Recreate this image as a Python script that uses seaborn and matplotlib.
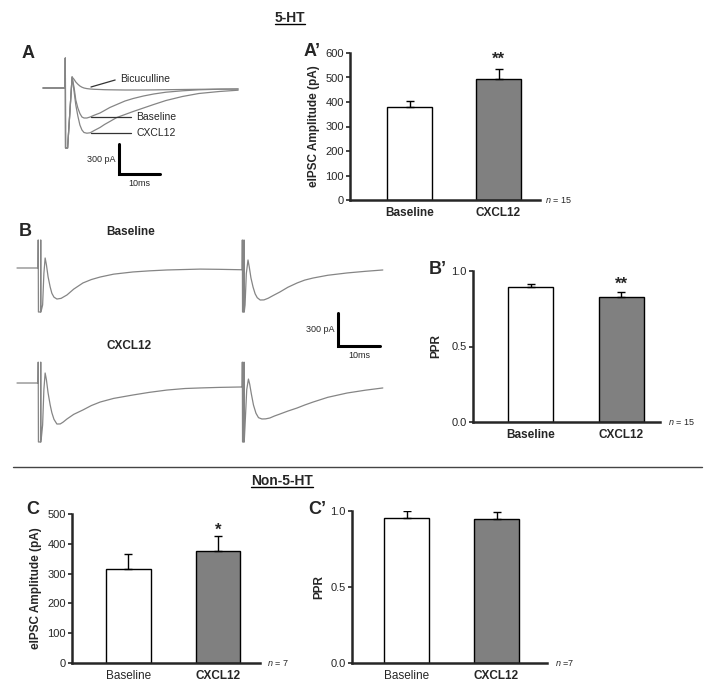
import matplotlib
matplotlib.use('Agg')
import matplotlib.pyplot as plt
from matplotlib.lines import Line2D
import seaborn as sns

# ---------------- values ----------------
conditions = ['Baseline', 'CXCL12']

# A' 5-HT eIPSC amplitude (pA): mean, SEM
amp_5ht = [378, 494]
amp_5ht_sem = [28, 40]
# B' 5-HT paired-pulse ratio
ppr_5ht = [0.895, 0.83]
ppr_5ht_sem = [0.022, 0.028]
# C non-5-HT eIPSC amplitude (pA)
amp_non = [316, 376]
amp_non_sem = [49, 49]
# C' non-5-HT paired-pulse ratio
ppr_non = [0.956, 0.947]
ppr_non_sem = [0.042, 0.045]

# A: example traces (ms, pA), stimulus artefact then response
trace_a_t = [0, 5.4, 5.45, 5.5, 6.0, 7.1, 7.6, 8.0, 8.5, 9.0, 9.5, 10.0, 10.7, 11.5, 12.5,
             13.9, 15.0, 16.3, 18.0, 20.0, 22.0, 24.5, 27.0, 30.0, 34.0, 38.0, 43.0, 47.6]
trace_a_bic = [0, 0, 300, -600, -600, 110, 85, 60, 38, 20, 8, 0, -6, -10, -13,
               -15, -17, -18, -19, -20, -20, -20, -19, -17, -15, -13, -11, -10]
trace_a_base = [0, 0, 300, -600, -600, 110, 0, -120, -200, -255, -290, -300, -300, -290, -272,
                -250, -225, -195, -165, -130, -105, -80, -60, -42, -28, -18, -12, -10]
trace_a_cxcl = [0, 0, 300, -600, -600, 110, -40, -170, -280, -370, -420, -445, -452, -448, -425,
                -395, -365, -335, -295, -265, -235, -200, -165, -125, -85, -55, -35, -22]

# B: paired-pulse traces (ms, pA)
trace_b_base_t = [0, 5.0, 5.05, 5.1, 5.6, 5.65, 5.7, 6.1, 6.4, 6.7, 7.0, 7.4, 7.9, 8.3, 8.8,
                  9.5, 10.5, 11.9, 13.5, 15.7, 17.7, 19.8, 23.0, 27.6, 31.5, 35.7, 43.6, 48.0,
                  53.6, 53.65, 53.7, 54.0, 54.05, 54.1, 54.3, 54.6, 55.0, 55.3, 55.7, 56.2,
                  56.7, 57.2, 57.9, 58.8, 59.8, 61.0, 62.6, 64.5, 66.7, 68.5, 70.5, 74.0,
                  78.6, 83.0, 87.1]
trace_b_base = [0, 0, 255, -400, -400, 255, -400, -336, -50, 91, 30, -80, -173, -230, -265,
                -282, -276, -245, -192, -136, -105, -82, -56, -36, -26, -18, -10, -12,
                -16, 255, -400, -400, 255, -400, -336, -50, 73, 10, -90, -173,
                -235, -270, -291, -290, -275, -250, -218, -175, -136, -110, -91, -66,
                -45, -30, -18]
trace_b_cxcl_t = [0, 5.0, 5.05, 5.1, 5.6, 5.65, 5.7, 6.1, 6.4, 6.7, 7.0, 7.4, 7.9, 8.3, 8.8,
                  9.5, 10.3, 11.0, 11.9, 13.5, 15.7, 17.7, 19.8, 23.0, 27.6, 31.5, 35.7, 40.0,
                  43.6, 48.0, 53.6, 53.65, 53.7, 54.0, 54.05, 54.1, 54.3, 54.7, 55.1, 55.4,
                  55.8, 56.3, 56.9, 57.5, 58.3, 59.2, 60.2, 61.3, 62.6, 64.5, 66.7, 68.5,
                  70.5, 74.0, 78.6, 83.0, 87.1]
trace_b_cxcl = [0, 0, 190, -536, -536, 190, -536, -382, -60, 91, 30, -90, -200, -270, -330,
                -373, -372, -355, -327, -285, -245, -205, -173, -140, -109, -85, -64, -50,
                -45, -40, -36, 190, -536, -536, 190, -536, -382, -60, 36, -10,
                -100, -200, -275, -315, -327, -326, -318, -300, -282, -255, -227, -200,
                -173, -130, -91, -65, -45]

sns.set_style('ticks')
plt.rcParams['font.family'] = ['Liberation Sans', 'DejaVu Sans']
plt.rcParams['mathtext.fontset'] = 'custom'
plt.rcParams['mathtext.rm'] = 'Liberation Sans'
plt.rcParams['mathtext.it'] = 'Liberation Sans:italic'

W, H = 715, 695
fig = plt.figure(figsize=(W / 100, H / 100), dpi=100)
TRACE = '#858585'


def px_axes(x0, y0, x1, y1):
    return fig.add_axes([x0 / W, 1 - y1 / H, (x1 - x0) / W, (y1 - y0) / H])


def px_text(x, y, s, **kw):
    return fig.text(x / W, 1 - y / H, s, **kw)


def underline(txt):
    fig.canvas.draw()
    bb = txt.get_window_extent()
    y = (bb.y0 + 1.5) / H
    fig.add_artist(Line2D([bb.x0 / W, bb.x1 / W], [y, y], color='black', lw=1))


def scale_bar(ax, x, y, dx, dy, lab_x, off):
    ax.plot([x, x, x + dx], [y, y - dy, y - dy], color='black', lw=2.2,
            solid_joinstyle='miter', clip_on=False)
    ax.text(x - off, y - dy / 2, '300 pA', ha='right', va='center', fontsize=6.5)
    ax.text(x + dx / 2, y - dy - lab_x, '10ms', ha='center', va='center', fontsize=6.5)


def trace(ax, t, y):
    sns.lineplot(x=t, y=y, ax=ax, color=TRACE, linewidth=0.9, sort=False, estimator=None)


def bar_panel(box, means, sems, top, ticks, fmt, ylabel, xlim, lab_x, n_text, n_off,
              stars, star_y, bold_base=True):
    ax = px_axes(*box)
    sns.barplot(x=conditions, y=means, hue=conditions, palette=['white', '#808080'],
                edgecolor='black', linewidth=1, width=0.5, legend=False, ax=ax, zorder=2)
    ax.errorbar([0, 1], means, yerr=[[0, 0], sems], fmt='none', ecolor='black',
                elinewidth=1, capsize=3, capthick=1, zorder=3)
    ax.set_xlim(*xlim)
    ax.set_ylim(0, top)
    ax.set_yticks(ticks)
    ax.set_yticklabels([fmt.format(t) for t in ticks])
    ax.set_xticks([0, 1])
    ax.set_xticklabels(conditions)
    for lab, w in zip(ax.get_xticklabels(), ['bold' if bold_base else 'normal', 'bold']):
        lab.set_fontweight(w)
        lab.set_fontsize(8.5)
    ax.tick_params(axis='y', direction='out', length=3, width=1.2, labelsize=8, pad=1.5)
    ax.tick_params(axis='x', length=0, pad=5)
    sns.despine(ax=ax)
    for s in ['left', 'bottom']:
        ax.spines[s].set_linewidth(1.8)
    ax.set_xlabel('')
    ax.set_ylabel(ylabel, fontsize=8.5, fontweight='bold')
    ax.yaxis.set_label_coords(lab_x, 0.5)
    ax.annotate(n_text, xy=(1, 0), xycoords='axes fraction', xytext=(n_off, 0),
                textcoords='offset points', ha='left', va='center', fontsize=6.5)
    if stars:
        ax.text(1, star_y, stars, ha='center', va='center', fontsize=12, fontweight='bold')
    return ax


# ---------------- A: example traces ----------------
ax_a = px_axes(40, 45, 245, 195)
for y in [trace_a_bic, trace_a_base, trace_a_cxcl]:
    trace(ax_a, trace_a_t, y)
ax_a.set_xlim(-0.73, 49.27)
ax_a.set_ylim(-1070, 430)
ax_a.set_axis_off()
for (x0, y0, x1, y1), name, tx, ty in [((11.7, 10, 17.6, 80), 'Bicuculline', 18.8, 90),
                                       ((11.7, -290, 21.5, -290), 'Baseline', 22.7, -290),
                                       ((11.7, -450, 21.5, -450), 'CXCL12', 22.7, -450)]:
    ax_a.plot([x0, x1], [y0, y1], color='#333333', lw=0.9)
    ax_a.text(tx, ty, name, ha='left', va='center', fontsize=7.5)
scale_bar(ax_a, 18.5, -560, 10, 300, 90, 0.7)

# ---------------- B: paired-pulse traces ----------------
ax_b1 = px_axes(10, 225, 400, 360)
trace(ax_b1, trace_b_base_t, trace_b_base)
ax_b1.set_xlim(-1.667, 91.19)
ax_b1.set_ylim(-836.4, 390.9)
ax_b1.set_axis_off()
scale_bar(ax_b1, 76.4, -409, 10, 300, 82, 0.7)

ax_b2 = px_axes(10, 335, 400, 450)
trace(ax_b2, trace_b_cxcl_t, trace_b_cxcl)
ax_b2.set_xlim(-1.667, 91.19)
ax_b2.set_ylim(-609, 436.4)
ax_b2.set_axis_off()

px_text(131, 232, 'Baseline', ha='center', va='center', fontsize=8.5, fontweight='bold')
px_text(129, 346, 'CXCL12', ha='center', va='center', fontsize=8.5, fontweight='bold')

# ---------------- bar panels ----------------
bar_panel((350, 53, 540, 200), amp_5ht, amp_5ht_sem, 600, range(0, 601, 100), '{:d}',
          'eIPSC Amplitude (pA)', (-0.669, 1.466), -0.158, r'$\mathit{n}$ = 15', 3.6, '**', 575)
bar_panel((473, 271, 660, 422), ppr_5ht, ppr_5ht_sem, 1.0, [0, 0.5, 1.0], '{:.1f}',
          'PPR', (-0.644, 1.433), -0.166, r'$\mathit{n}$ = 15', 5.5, '**', 0.91)
bar_panel((72, 514, 260, 663), amp_non, amp_non_sem, 500, range(0, 501, 100), '{:d}',
          'eIPSC Amplitude (pA)', (-0.631, 1.469), -0.16, r'$\mathit{n}$ = 7', 5, '*', 445,
          bold_base=False)
bar_panel((352, 511, 547, 663), ppr_non, ppr_non_sem, 1.0, [0, 0.5, 1.0], '{:.1f}',
          'PPR', (-0.606, 1.561), -0.138, r'$\mathit{n}$ =7', 5.5, '', 0, bold_base=False)

# ---------------- panel letters, titles, separator ----------------
for x, y, s in [(28, 54, 'A'), (312, 52, 'A\u2019'), (25, 232, 'B'), (438, 270, 'B\u2019'),
                (33, 510, 'C'), (317, 510, 'C\u2019')]:
    px_text(x, y, s, ha='center', va='center', fontsize=13, fontweight='bold')

t1 = px_text(290, 18, '5-HT', ha='center', va='center', fontsize=10, fontweight='bold')
t2 = px_text(282, 481, 'Non-5-HT', ha='center', va='center', fontsize=10, fontweight='bold')
underline(t1)
underline(t2)
fig.add_artist(Line2D([13 / W, 702 / W], [1 - 467 / H] * 2, color='#444444', lw=1))

fig.savefig('out.png', dpi=100)
